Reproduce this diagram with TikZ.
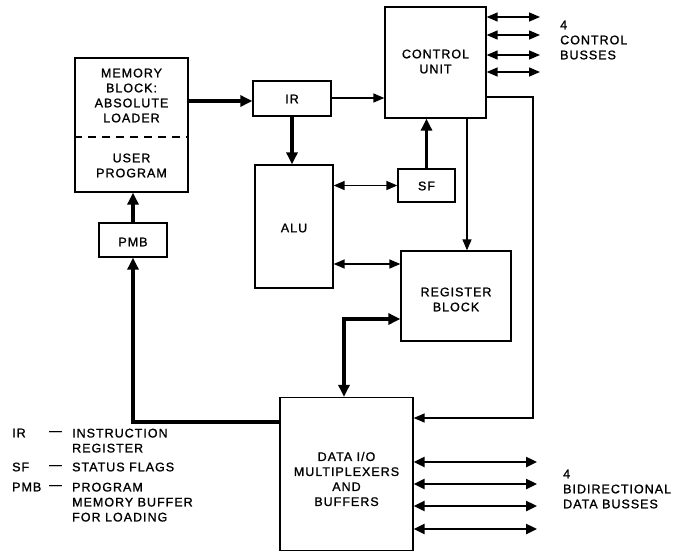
\documentclass[tikz,border=0pt]{standalone}
\usepackage{fontspec}
\setmainfont{Liberation Sans}[LetterSpace=8,FakeBold=1.2]
\usetikzlibrary{arrows.meta}
\tikzset{
  blk/.style={draw, line width=1.3pt, rectangle, inner sep=0pt},
  lbl/.style={inner sep=0pt, align=center},
  lgd/.style={inner sep=0pt, align=left},
  thinln/.style={line width=1.5pt},
  thickln/.style={line width=3.8pt},
  busln/.style={line width=2.4pt},
  tipA/.tip={Triangle[length=11pt,width=9pt]},
  tipB/.tip={Triangle[length=12pt,width=11pt]},
  tipC/.tip={Triangle[length=11pt,width=10pt]},
}
\begin{document}
\begin{tikzpicture}[x=1pt,y=-1pt,font=\fontsize{12.5}{15}\selectfont]
\useasboundingbox (0,0) rectangle (688,552);
% boxes
\node[blk, minimum width=113pt, minimum height=134pt] (mem) at (131.5,125) {};
\node[blk, minimum width=78pt, minimum height=35pt] (ir) at (292,98.5) {};
\node[blk, minimum width=101pt, minimum height=111pt] (cu) at (435.5,62.5) {};
\node[blk, minimum width=78pt, minimum height=123pt] (alu) at (294,226.5) {};
\node[blk, minimum width=57pt, minimum height=33pt] (sf) at (426.5,185.5) {};
\node[blk, minimum width=110pt, minimum height=90pt] (reg) at (456,296) {};
\node[blk, minimum width=68pt, minimum height=34pt] (pmb) at (133,240) {};
\node[blk, minimum width=133pt, minimum height=153pt] (dat) at (346.5,474) {};
% dashed separator
\draw[line width=1.3pt, dash pattern=on 8pt off 6pt] (mem.west |- 0,137) -- (mem.east |- 0,137);
% box texts
\node[lbl] (memt) at (131.5,95.5) {MEMORY\\BLOCK:\\ABSOLUTE\\LOADER};
\node[lbl] (usert) at (131.5,165.5) {USER\\PROGRAM};
\node[lbl] (irt) at (292,99) {IR};
\node[lbl] (sft) at (426.5,186) {SF};
\node[lbl] (alut) at (294,228) {ALU};
\node[lbl] (pmbt) at (133,242) {PMB};
\node[lbl] (cut) at (435.5,61.5) {CONTROL\\UNIT};
\node[lbl] (regt) at (456,299.5) {REGISTER\\BLOCK};
\node[lbl] (datt) at (346.5,479) {DATA I/O\\MULTIPLEXERS\\AND\\BUFFERS};
% side labels
\node[lgd, anchor=north west] (cbt) at (560,20.5) {4\\CONTROL\\BUSSES};
\node[lgd, anchor=north west] (dbt) at (563,469.5) {4\\BIDIRECTIONAL\\DATA BUSSES};
% legend
\node[lgd, anchor=west] (l1) at (12,433) {IR};
\node[lgd, anchor=west] (l1d) at (49,433) {---};
\node[lgd, anchor=north west] (l1t) at (72,428.5) {INSTRUCTION\\REGISTER};
\node[lgd, anchor=west] (l2) at (12,467) {SF};
\node[lgd, anchor=west] (l2d) at (49,467) {---};
\node[lgd, anchor=west] (l2t) at (72,467) {STATUS FLAGS};
\node[lgd, anchor=west] (l3) at (12,487) {PMB};
\node[lgd, anchor=west] (l3d) at (49,487) {---};
\node[lgd, anchor=north west] (l3t) at (72,482.5) {PROGRAM\\MEMORY BUFFER\\FOR LOADING};
% connectors
\draw[thickln, -tipB] (mem.east |- 0,101) -- (ir.west |- 0,101);
\draw[thinln, -tipA] (ir.east |- 0,98) -- (cu.west |- 0,98);
\draw[thickln, -tipB] (ir.south) -- (ir.south |- alu.north);
\draw[thickln, -tipB] (sf.north) -- (sf.north |- cu.south);
\draw[thinln, tipA-tipA] (alu.east |- sf.west) -- (sf.west);
\draw[thinln, tipA-tipA] (alu.east |- 0,264) -- (reg.west |- 0,264);
\draw[thinln, -tipA] (cu.south -| 467,0) -- (reg.north -| 467,0);
\draw[thinln, -tipA] (cu.east |- 0,97) -- (533,97) -- (533,418) -- (dat.east |- 0,418);
\draw[thickln, tipB-tipB] (reg.west |- 0,319) -- (344,319) -- (dat.north -| 344,0);
\draw[thickln, -tipB] (dat.west |- 0,422) -- (133,422) -- (pmb.south);
\draw[thickln, -tipB] (pmb.north) -- (pmb.north |- mem.south);
\foreach \yy in {17,35,55,72} \draw[thinln, tipA-tipA] (cu.east |- 0,\yy) -- (540,\yy);
\foreach \yy in {462,484,506,529} \draw[busln, tipC-tipC] (dat.east |- 0,\yy) -- (537,\yy);
\end{tikzpicture}
\end{document}
